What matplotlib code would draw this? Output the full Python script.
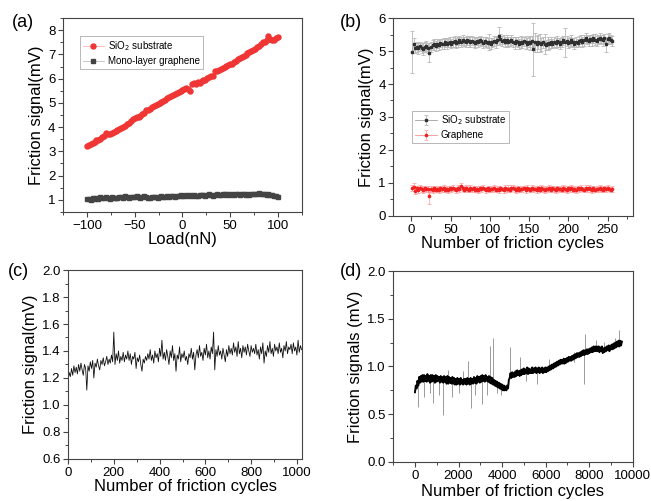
import numpy as np
import matplotlib
matplotlib.use("Agg")
import matplotlib.pyplot as plt
from matplotlib.ticker import MultipleLocator

plt.rcParams['font.family'] = ['Liberation Sans', 'DejaVu Sans']

# (a) friction vs load, load grid -100..100 nN
sio2_load = [3.20, 3.25, 3.30, 3.36, 3.40, 3.48, 3.45, 3.52, 3.58, 3.63,
             3.75, 3.72, 3.70, 3.76, 3.80, 3.85, 3.88, 3.92, 3.98, 4.02,
             4.06, 4.12, 4.18, 4.24, 4.32, 4.36, 4.40, 4.42, 4.46, 4.52,
             4.60, 4.70, 4.72, 4.76, 4.82, 4.86, 4.90, 4.95, 5.00, 5.05,
             5.08, 5.12, 5.18, 5.24, 5.27, 5.32, 5.36, 5.40, 5.44, 5.48,
             5.52, 5.56, 5.60, 5.58, 5.50, 5.78, 5.82, 5.76, 5.88, 5.84,
             5.92, 5.96, 5.94, 6.02, 6.08, 6.12, 6.10, 6.30, 6.32, 6.34,
             6.38, 6.42, 6.46, 6.52, 6.58, 6.62, 6.60, 6.68, 6.74, 6.80,
             6.86, 6.90, 6.94, 6.98, 7.04, 7.10, 7.16, 7.20, 7.24, 7.30,
             7.36, 7.42, 7.50, 7.52, 7.60, 7.74, 7.62, 7.60, 7.58, 7.66, 7.70]
gr_load = [1.02, 1.04, 1.00, 1.06, 1.03, 1.08, 1.05, 1.10, 1.06, 1.09,
           1.12, 1.07, 1.05, 1.10, 1.08, 1.06, 1.09, 1.12, 1.10, 1.07,
           1.14, 1.11, 1.08, 1.13, 1.10, 1.12, 1.15, 1.11, 1.08, 1.13,
           1.16, 1.12, 1.09, 1.07, 1.11, 1.10, 1.13, 1.08, 1.12, 1.14,
           1.10, 1.13, 1.16, 1.12, 1.15, 1.17, 1.13, 1.16, 1.14, 1.18,
           1.15, 1.17, 1.19, 1.15, 1.18, 1.16, 1.20, 1.17, 1.14, 1.19,
           1.21, 1.18, 1.16, 1.20, 1.22, 1.19, 1.17, 1.21, 1.23, 1.20,
           1.18, 1.22, 1.24, 1.20, 1.22, 1.19, 1.23, 1.21, 1.25, 1.22,
           1.20, 1.24, 1.22, 1.19, 1.23, 1.21, 1.24, 1.22, 1.26, 1.23,
           1.28, 1.24, 1.22, 1.25, 1.20, 1.23, 1.18, 1.20, 1.15, 1.16, 1.12]

# (b) friction vs cycles (1..256) with error bars
sio2_cyc = [4.97, 5.22, 5.10, 5.12, 5.08, 5.14, 5.10, 5.06, 5.12, 5.15, 5.10, 4.95, 5.12, 5.18, 5.20, 5.16,
            5.22, 5.18, 5.24, 5.20, 5.22, 5.26, 5.21, 5.25, 5.28, 5.22, 5.26, 5.30, 5.24, 5.28, 5.32, 5.28,
            5.34, 5.30, 5.27, 5.32, 5.29, 5.26, 5.31, 5.28, 5.24, 5.30, 5.27, 5.32, 5.29, 5.25, 5.30, 5.27,
            5.24, 5.28, 5.22, 5.26, 5.30, 5.27, 5.32, 5.45, 5.36, 5.30, 5.34, 5.28, 5.32, 5.26, 5.30, 5.34,
            5.28, 5.24, 5.30, 5.27, 5.22, 5.28, 5.25, 5.30, 5.26, 5.22, 5.28, 5.25, 5.30, 5.05, 5.26, 5.22,
            5.28, 5.24, 5.20, 5.26, 5.22, 5.18, 5.24, 5.20, 5.26, 5.22, 5.28, 5.24, 5.30, 5.26, 5.22, 5.28,
            5.32, 5.26, 5.30, 5.24, 5.28, 5.32, 5.26, 5.22, 5.28, 5.24, 5.30, 5.34, 5.28, 5.32, 5.40, 5.34,
            5.30, 5.36, 5.32, 5.38, 5.34, 5.30, 5.36, 5.40, 5.35, 5.32, 5.38, 5.20, 5.36, 5.40, 5.34, 5.30]
sio2_err = [0.64, 0.18, 0.15, 0.14, 0.16, 0.13, 0.15, 0.17, 0.14, 0.16, 0.15, 0.28, 0.15, 0.14, 0.16, 0.15,
            0.14, 0.16, 0.13, 0.15, 0.17, 0.14, 0.15, 0.13, 0.16, 0.14, 0.15, 0.17, 0.14, 0.16, 0.13, 0.15,
            0.16, 0.14, 0.15, 0.13, 0.17, 0.15, 0.14, 0.16, 0.15, 0.13, 0.16, 0.14, 0.15, 0.17, 0.14, 0.16,
            0.15, 0.25, 0.16, 0.14, 0.15, 0.17, 0.14, 0.28, 0.16, 0.15, 0.14, 0.16, 0.18, 0.15, 0.14, 0.16,
            0.15, 0.17, 0.14, 0.16, 0.15, 0.18, 0.16, 0.14, 0.20, 0.16, 0.15, 0.22, 0.17, 0.80, 0.30, 0.25,
            0.22, 0.28, 0.20, 0.18, 0.30, 0.16, 0.20, 0.15, 0.17, 0.14, 0.16, 0.15, 0.17, 0.14, 0.16, 0.15,
            0.14, 0.45, 0.16, 0.14, 0.15, 0.17, 0.14, 0.16, 0.15, 0.13, 0.16, 0.14, 0.15, 0.17, 0.16, 0.14,
            0.15, 0.13, 0.16, 0.14, 0.17, 0.15, 0.14, 0.16, 0.15, 0.18, 0.14, 0.22, 0.16, 0.15, 0.14, 0.16]
gr_cyc = [0.85, 0.88, 0.75, 0.84, 0.80, 0.86, 0.82, 0.79, 0.84, 0.81, 0.83, 0.60, 0.82, 0.78, 0.85, 0.80,
          0.83, 0.79, 0.84, 0.81, 0.86, 0.80, 0.83, 0.78, 0.84, 0.81, 0.85, 0.82, 0.79, 0.84, 0.82, 0.90,
          0.84, 0.80, 0.86, 0.82, 0.79, 0.84, 0.81, 0.85, 0.80, 0.83, 0.78, 0.84, 0.81, 0.86, 0.82, 0.79,
          0.84, 0.80, 0.83, 0.81, 0.85, 0.79, 0.83, 0.80, 0.84, 0.82, 0.78, 0.85, 0.81, 0.83, 0.80, 0.84,
          0.86, 0.82, 0.79, 0.84, 0.80, 0.83, 0.81, 0.85, 0.79, 0.84, 0.82, 0.80, 0.86, 0.81, 0.83, 0.79,
          0.84, 0.80, 0.85, 0.82, 0.78, 0.83, 0.81, 0.84, 0.80, 0.85, 0.82, 0.79, 0.84, 0.81, 0.83, 0.80,
          0.85, 0.81, 0.78, 0.84, 0.82, 0.86, 0.80, 0.83, 0.79, 0.84, 0.81, 0.85, 0.82, 0.80, 0.84, 0.81,
          0.86, 0.82, 0.79, 0.84, 0.80, 0.83, 0.81, 0.85, 0.82, 0.80, 0.84, 0.81, 0.86, 0.82, 0.80, 0.83]
gr_err = [0.10, 0.12, 0.09, 0.08, 0.09, 0.07, 0.08, 0.09, 0.08, 0.07, 0.09, 0.25, 0.08, 0.09, 0.07, 0.08,
          0.09, 0.08, 0.07, 0.09, 0.08, 0.07, 0.09, 0.08, 0.07, 0.08, 0.09, 0.07, 0.08, 0.09, 0.08, 0.10,
          0.08, 0.07, 0.09, 0.08, 0.07, 0.09, 0.08, 0.07, 0.08, 0.09, 0.07, 0.08, 0.09, 0.08, 0.07, 0.09,
          0.08, 0.07, 0.09, 0.08, 0.09, 0.07, 0.08, 0.09, 0.08, 0.07, 0.09, 0.08, 0.07, 0.10, 0.08, 0.09,
          0.07, 0.08, 0.09, 0.08, 0.07, 0.09, 0.08, 0.07, 0.08, 0.09, 0.07, 0.08, 0.09, 0.08, 0.07, 0.09,
          0.08, 0.07, 0.09, 0.08, 0.09, 0.07, 0.08, 0.09, 0.08, 0.07, 0.09, 0.08, 0.07, 0.08, 0.09, 0.07,
          0.08, 0.09, 0.07, 0.08, 0.09, 0.08, 0.07, 0.09, 0.08, 0.07, 0.08, 0.09, 0.07, 0.08, 0.09, 0.08,
          0.07, 0.09, 0.08, 0.07, 0.08, 0.09, 0.07, 0.08, 0.09, 0.08, 0.07, 0.09, 0.08, 0.07, 0.08, 0.09]

# (c) graphene friction, 0..1020 cycles
gr_long = [1.18, 1.24, 1.21, 1.27, 1.22, 1.29, 1.24, 1.28, 1.23, 1.30,
           1.25, 1.31, 1.26, 1.22, 1.30, 1.27, 1.11, 1.29, 1.25, 1.32,
           1.27, 1.33, 1.20, 1.31, 1.28, 1.34, 1.29, 1.26, 1.33, 1.30,
           1.35, 1.29, 1.32, 1.36, 1.30, 1.34, 1.31, 1.37, 1.32, 1.54,
           1.30, 1.38, 1.33, 1.40, 1.31, 1.36, 1.33, 1.39, 1.32, 1.37,
           1.34, 1.40, 1.33, 1.38, 1.30, 1.36, 1.34, 1.39, 1.27, 1.35,
           1.32, 1.37, 1.30, 1.25, 1.34, 1.31, 1.36, 1.33, 1.38, 1.34,
           1.41, 1.33, 1.37, 1.31, 1.40, 1.35, 1.38, 1.32, 1.42, 1.36,
           1.48, 1.34, 1.39, 1.33, 1.41, 1.36, 1.30, 1.40, 1.35, 1.44,
           1.33, 1.38, 1.25, 1.37, 1.34, 1.43, 1.32, 1.38, 1.35, 1.40,
           1.33, 1.36, 1.30, 1.38, 1.35, 1.42, 1.34, 1.39, 1.26, 1.37,
           1.41, 1.35, 1.44, 1.36, 1.39, 1.33, 1.42, 1.37, 1.45, 1.35,
           1.40, 1.34, 1.43, 1.38, 1.54, 1.26, 1.41, 1.36, 1.44, 1.37,
           1.40, 1.34, 1.42, 1.37, 1.32, 1.41, 1.36, 1.44, 1.38, 1.42,
           1.37, 1.46, 1.39, 1.43, 1.36, 1.47, 1.38, 1.42, 1.35, 1.44,
           1.39, 1.43, 1.37, 1.45, 1.40, 1.36, 1.44, 1.39, 1.42, 1.38,
           1.45, 1.37, 1.41, 1.34, 1.43, 1.38, 1.46, 1.31, 1.40, 1.36,
           1.44, 1.39, 1.47, 1.38, 1.42, 1.36, 1.45, 1.40, 1.43, 1.38,
           1.46, 1.39, 1.42, 1.35, 1.44, 1.40, 1.47, 1.38, 1.43, 1.41,
           1.45, 1.38, 1.46, 1.40, 1.43, 1.37, 1.48, 1.39, 1.44, 1.41]

# (d) friction signals, 0..9500 cycles: main band + single-cycle spikes
sig_long = [0.73, 0.80, 0.77, 0.85, 0.80, 0.89, 0.83, 0.90, 0.84, 0.91,
            0.84, 0.91, 0.85, 0.90, 0.84, 0.92, 0.85, 0.90, 0.83, 0.91,
            0.84, 0.91, 0.85, 0.90, 0.83, 0.91, 0.84, 0.90, 0.85, 0.89,
            0.83, 0.90, 0.84, 0.89, 0.83, 0.90, 0.84, 0.89, 0.82, 0.90,
            0.82, 0.89, 0.83, 0.88, 0.82, 0.89, 0.82, 0.88, 0.81, 0.87,
            0.81, 0.88, 0.82, 0.87, 0.81, 0.88, 0.82, 0.86, 0.81, 0.87,
            0.82, 0.87, 0.81, 0.88, 0.82, 0.87, 0.81, 0.88, 0.82, 0.87,
            0.82, 0.89, 0.83, 0.88, 0.82, 0.90, 0.84, 0.89, 0.83, 0.90,
            0.84, 0.91, 0.85, 0.90, 0.84, 0.91, 0.85, 0.89, 0.84, 0.90,
            0.83, 0.89, 0.82, 0.88, 0.81, 0.86, 0.80, 0.85, 0.79, 0.84,
            0.78, 0.83, 0.77, 0.82, 0.76, 0.81, 0.75, 0.80, 0.75, 0.79,
            0.75, 0.80, 0.77, 0.86, 0.88, 0.93, 0.88, 0.94, 0.89, 0.93,
            0.89, 0.95, 0.90, 0.96, 0.91, 0.95, 0.90, 0.96, 0.91, 0.97,
            0.92, 0.98, 0.92, 0.97, 0.93, 0.99, 0.92, 0.98, 0.93, 0.97,
            0.93, 0.99, 0.93, 0.98, 0.94, 0.99, 0.93, 0.98, 0.94, 0.99,
            0.93, 0.98, 0.94, 0.99, 0.93, 0.98, 0.94, 0.99, 0.94, 0.99,
            0.95, 1.00, 0.96, 1.01, 0.97, 1.02, 0.98, 1.03, 0.99, 1.04,
            1.00, 1.05, 1.01, 1.06, 1.02, 1.07, 1.03, 1.07, 1.03, 1.08,
            1.03, 1.08, 1.04, 1.09, 1.05, 1.10, 1.06, 1.10, 1.06, 1.11,
            1.07, 1.12, 1.08, 1.13, 1.09, 1.14, 1.10, 1.14, 1.10, 1.15,
            1.11, 1.16, 1.12, 1.17, 1.12, 1.17, 1.13, 1.18, 1.13, 1.18,
            1.14, 1.19, 1.15, 1.20, 1.15, 1.21, 1.16, 1.21, 1.16, 1.21,
            1.16, 1.21, 1.15, 1.20, 1.16, 1.21, 1.14, 1.19, 1.15, 1.20,
            1.16, 1.21, 1.17, 1.22, 1.16, 1.22, 1.18, 1.23, 1.18, 1.24,
            1.19, 1.25, 1.20, 1.26, 1.21, 1.27, 1.21, 1.27, 1.22, 1.26]
spike_cyc = [150, 420, 700, 830, 1100, 1300, 1500, 1700, 2000, 2200, 2420, 2550,
             2750, 3100, 3300, 3450, 3600, 3750, 3950, 4350, 4800, 5100, 5600, 6150,
             6800, 7300, 7750, 7800, 8300, 8700, 9200, 9350]
spike_lo = [0.58, 0.68, 0.72, 0.62, 0.70, 0.49, 0.86, 0.68, 0.72, 0.85, 0.84, 0.57,
            0.70, 0.61, 0.70, 0.86, 0.84, 0.72, 0.70, 0.88, 0.93, 0.85, 0.82, 0.97,
            1.04, 1.05, 0.82, 1.13, 1.18, 1.17, 1.21, 1.22]
spike_hi = [0.85, 0.86, 0.88, 0.88, 0.86, 0.86, 0.96, 0.85, 0.84, 0.95, 1.06, 0.84,
            0.86, 0.87, 0.87, 1.21, 1.30, 0.82, 0.79, 1.20, 1.10, 0.95, 0.95, 1.08,
            1.10, 1.15, 1.12, 1.34, 1.28, 1.26, 1.30, 1.38]

TICK_FS = 9.5
LABEL_FS = 12
SPINE = '#444444'


def style(ax, xmaj, xmin, ymaj, ymin):
    """common axis look: outward ticks left/bottom only, grey frame"""
    ax.xaxis.set_major_locator(MultipleLocator(xmaj))
    ax.xaxis.set_minor_locator(MultipleLocator(xmin))
    ax.yaxis.set_major_locator(MultipleLocator(ymaj))
    ax.yaxis.set_minor_locator(MultipleLocator(ymin))
    ax.tick_params(which='major', direction='out', length=3.5, width=0.8,
                   labelsize=TICK_FS, color=SPINE, pad=2)
    ax.tick_params(which='minor', direction='out', length=2, width=0.7, color=SPINE)
    for s in ax.spines.values():
        s.set_color(SPINE)
        s.set_linewidth(0.8)


fig = plt.figure(figsize=(6.51, 5.01), dpi=100)
axa = fig.add_axes([0.0968, 0.577, 0.367, 0.387])
axb = fig.add_axes([0.604, 0.569, 0.368, 0.395])
axc = fig.add_axes([0.1045, 0.084, 0.3595, 0.377])
axd = fig.add_axes([0.604, 0.078, 0.368, 0.381])

# (a)
xa1 = np.linspace(-100, 100, len(sio2_load))
xa2 = np.linspace(-100, 100, len(gr_load))
axa.plot(xa1, sio2_load, '-o', color='#ffb0b0', lw=0.6, ms=3.6,
         mfc='#f03535', mec='#f03535', label='SiO$_2$ substrate')
axa.plot(xa2, gr_load, '-s', color='#c0c0c0', lw=0.6, ms=3.0,
         mfc='#444444', mec='#444444', label='Mono-layer graphene')
axa.set_xlim(-125, 125)
axa.set_ylim(0.5, 8.5)
style(axa, 50, 25, 1, 0.5)
axa.set_xlabel('Load(nN)', fontsize=LABEL_FS, labelpad=0)
axa.set_ylabel('Friction signal(mV)', fontsize=LABEL_FS, labelpad=3)
la = axa.legend(loc='upper left', bbox_to_anchor=(0.05, 0.93), fontsize=7,
                frameon=True, fancybox=False, edgecolor='#999999',
                handlelength=2.2, borderpad=0.3, labelspacing=0.3, handletextpad=0.4)
la.get_frame().set_linewidth(0.6)

# (b)
xb1 = np.linspace(1, 256, len(sio2_cyc))
xb2 = np.linspace(1, 256, len(gr_cyc))
axb.errorbar(xb1, sio2_cyc, yerr=sio2_err, fmt='-s', color='#a0a0a0', lw=0.6,
             ms=1.6, mfc='#303030', mec='#303030', ecolor='#b8b8b8',
             elinewidth=0.6, capsize=1.5, capthick=0.6, label='SiO$_2$ substrate')
axb.errorbar(xb2, gr_cyc, yerr=gr_err, fmt='-o', color='#ff9090', lw=0.6,
             ms=1.6, mfc='#f02020', mec='#f02020', ecolor='#ffa8a8',
             elinewidth=0.6, capsize=1.5, capthick=0.6, label='Graphene')
axb.set_xlim(-23, 282)
axb.set_ylim(0, 6)
style(axb, 50, 25, 1, 0.5)
axb.set_xlabel('Number of friction cycles', fontsize=LABEL_FS, labelpad=0)
axb.set_ylabel('Friction signal(mV)', fontsize=LABEL_FS, labelpad=3)
lb = axb.legend(loc='center left', bbox_to_anchor=(0.06, 0.45), fontsize=7,
                frameon=True, fancybox=False, edgecolor='#999999',
                handlelength=2.2, borderpad=0.3, labelspacing=0.3, handletextpad=0.4)
lb.get_frame().set_linewidth(0.6)

# (c)
xc = np.linspace(0, 1020, len(gr_long))
axc.plot(xc, gr_long, color='#111111', lw=0.6)
axc.set_xlim(0, 1022)
axc.set_ylim(0.6, 2.0)
style(axc, 200, 100, 0.2, 0.1)
axc.set_xlabel('Number of friction cycles', fontsize=LABEL_FS, labelpad=0)
axc.set_ylabel('Friction signal(mV)', fontsize=LABEL_FS, labelpad=3)

# (d)
xd = np.linspace(0, 9500, len(sig_long))
axd.vlines(spike_cyc, spike_lo, spike_hi, color='#8a8a8a', lw=0.6)
axd.plot(xd, sig_long, color='#000000', lw=1.4)
axd.set_xlim(-1000, 10000)
axd.set_ylim(0, 2.0)
style(axd, 2000, 1000, 0.5, 0.25)
axd.set_xlabel('Number of friction cycles', fontsize=LABEL_FS, labelpad=2)
axd.set_ylabel('Friction signals (mV)', fontsize=LABEL_FS, labelpad=3)

for lab, x, y in [('(a)', 0.018, 0.955), ('(b)', 0.522, 0.955),
                  ('(c)', 0.012, 0.458), ('(d)', 0.522, 0.458)]:
    fig.text(x, y, lab, fontsize=13, va='center', ha='left')

fig.savefig('out.png', dpi=100)
